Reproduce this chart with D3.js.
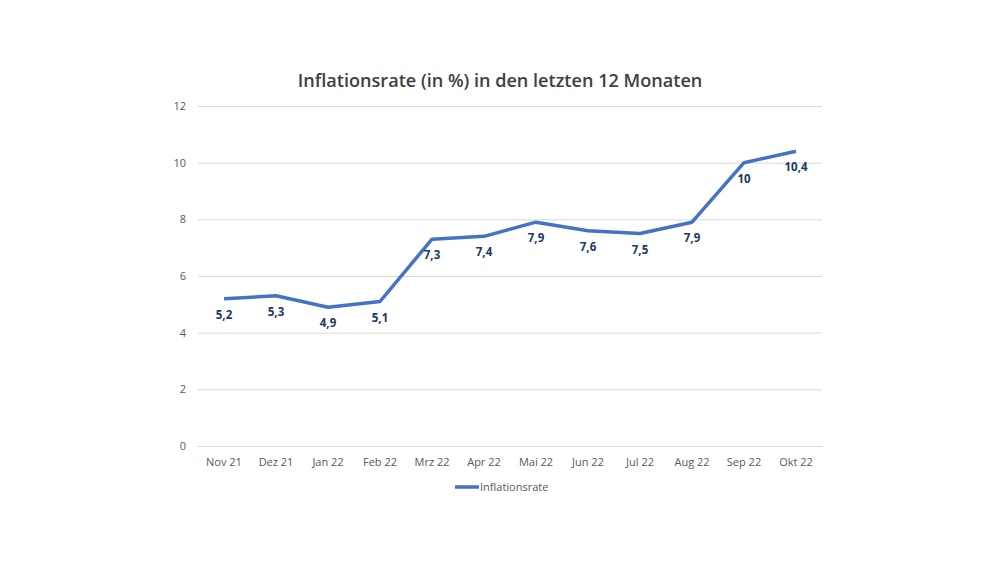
<!DOCTYPE html>
<html><head><meta charset="utf-8">
<script src="https://cdn.jsdelivr.net/npm/d3@7/dist/d3.min.js"></script>
<style>body{margin:0;background:#fff}svg{display:block}</style>
</head><body>
<svg id="c" width="1000" height="563"></svg>
<script>
const months = ["Nov 21","Dez 21","Jan 22","Feb 22","Mrz 22","Apr 22","Mai 22","Jun 22","Jul 22","Aug 22","Sep 22","Okt 22"];
const rates = [5.2,5.3,4.9,5.1,7.3,7.4,7.9,7.6,7.5,7.9,10,10.4];
const yTicks = [0,2,4,6,8,10,12];
const seriesName = "Inflationsrate";
const title = "Inflationsrate (in %) in den letzten 12 Monaten";

const font = "'Open Sans', 'Noto Sans', sans-serif";
const svg = d3.select("#c");
const x = d3.scaleBand().domain(months).range([198, 822]);
const y = d3.scaleLinear().domain([0, 12]).range([446, 106]);
const fmt = v => String(v).replace(".", ",");

svg.append("text").attr("x", 500).attr("y", 87).attr("text-anchor", "middle")
  .attr("font-family", font).attr("font-size", 18.1).attr("font-weight", 600)
  .attr("fill", "#404040").text(title);

const gy = svg.append("g").attr("transform", "translate(198,0)")
  .call(d3.axisLeft(y).tickValues(yTicks).tickSize(-624).tickPadding(12).tickFormat(d => d));
gy.select(".domain").remove();
gy.selectAll(".tick line").attr("stroke", "#d9d9d9").attr("stroke-width", 1);
gy.selectAll(".tick text").attr("font-family", font).attr("font-size", 11).attr("fill", "#595959");

const gx = svg.append("g").attr("transform", "translate(0,446)")
  .call(d3.axisBottom(x).tickSize(0).tickPadding(12));
gx.select(".domain").remove();
gx.selectAll(".tick text").attr("font-family", font).attr("font-size", 11).attr("fill", "#595959");

const cx = d => x(d) + x.bandwidth() / 2;
const line = d3.line().x((d, i) => cx(months[i])).y(d => y(d));
svg.append("path").datum(rates).attr("d", line).attr("fill", "none")
  .attr("stroke", "#4472c4").attr("stroke-width", 3.5).attr("stroke-linejoin", "round");

svg.append("g").selectAll("text").data(rates).join("text")
  .attr("x", (d, i) => cx(months[i])).attr("y", d => y(d) + 20)
  .attr("text-anchor", "middle").attr("font-family", font).attr("font-size", 11.5)
  .attr("font-weight", 700).attr("fill", "#203864").text(fmt);

const lg = svg.append("g");
lg.append("line").attr("x1", 455).attr("x2", 479).attr("y1", 487).attr("y2", 487)
  .attr("stroke", "#4472c4").attr("stroke-width", 3.5);
lg.append("text").attr("x", 480).attr("y", 491).attr("font-family", font).attr("font-size", 11)
  .attr("fill", "#595959").text(seriesName);
</script>
</body></html>
